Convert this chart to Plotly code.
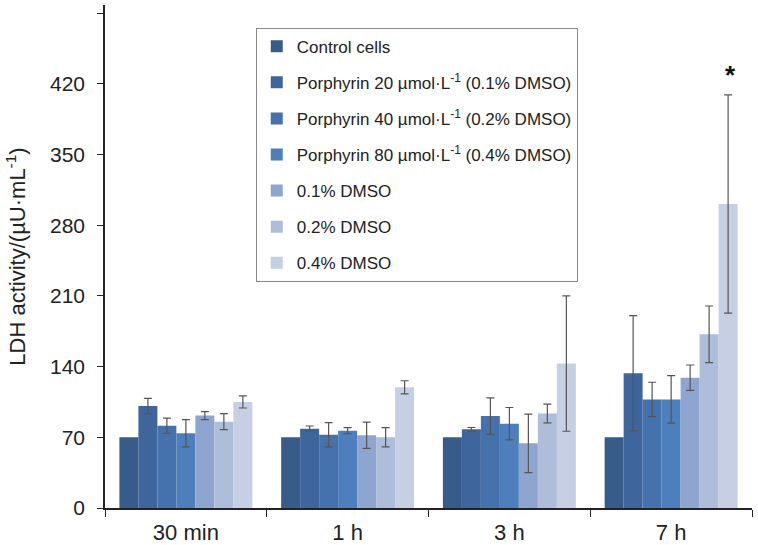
import plotly.graph_objects as go

categories = ["30 min", "1 h", "3 h", "7 h"]

series_names = [
    "Control cells",
    "Porphyrin 20 µmol·L<sup>-1</sup> (0.1% DMSO)",
    "Porphyrin 40 µmol·L<sup>-1</sup> (0.2% DMSO)",
    "Porphyrin 80 µmol·L<sup>-1</sup> (0.4% DMSO)",
    "0.1% DMSO",
    "0.2% DMSO",
    "0.4% DMSO",
]

control = [70, 70, 70, 70]
p20 = [101, 78.5, 78, 133.5]
p40 = [81.5, 72.5, 91, 107.5]
p80 = [74, 76.5, 83.5, 107.5]
dmso01 = [91.5, 72, 64, 129]
dmso02 = [85.5, 70, 93.5, 172]
dmso04 = [105, 119.5, 143, 301]

control_err = [0, 0, 0, 0]
p20_err = [7.5, 2.7, 1.7, 57]
p40_err = [7.5, 12, 18, 17]
p80_err = [13.5, 3, 16, 23.5]
dmso01_err = [4, 13, 29, 12.6]
dmso02_err = [8, 9.5, 9.3, 28]
dmso04_err = [6, 6.5, 67, 108]

values = [control, p20, p40, p80, dmso01, dmso02, dmso04]
errors = [control_err, p20_err, p40_err, p80_err, dmso01_err, dmso02_err, dmso04_err]

colors = ["#385c8a", "#3e659c", "#4571ac", "#4d7fbd", "#8ea6cf", "#aebdd9", "#c6cfe3"]

ytick_vals = [0, 70, 140, 210, 280, 350, 420]
ytick_text = ["0", "70", "140", "210", "280", "350", "420"]
ytick_step = 70

fig = go.Figure()
for i, (name, vals, errs, col) in enumerate(zip(series_names, values, errors, colors)):
    fig.add_trace(go.Bar(
        x=categories, y=vals, name=name, legendgroup=f"g{i}",
        marker=dict(color=col, line=dict(width=0)),
        error_y=dict(type="data", array=errs, visible=any(e > 0 for e in errs),
                     color="#555555", thickness=1.2, width=4),
    ))

# significance star above 7 h / 0.4% DMSO
fig.add_annotation(
    x=categories[3], y=dmso04[3] + dmso04_err[3] + 20, xref="x", yref="y",
    text="<b>*</b>", showarrow=False, xshift=59,
    font=dict(size=26, color="#111111", family="Arial"),
)

fig.update_layout(
    width=758, height=545,
    margin=dict(l=105, r=6, t=5, b=37),
    paper_bgcolor="white", plot_bgcolor="white",
    barmode="group", bargap=0.178, bargroupgap=0,
    font=dict(family="Arial", size=20, color="#222222"),
    showlegend=True,
    legend=dict(
        x=0.233, y=0.955, xanchor="left", yanchor="top",
        bordercolor="#888888", borderwidth=1, bgcolor="white",
        font=dict(size=17, color="#222222"),
        tracegroupgap=11, itemwidth=30,
    ),
    xaxis=dict(
        showline=True, linecolor="#222222", linewidth=1.5,
        ticks="outside", tickson="boundaries", ticklen=7, tickcolor="#222222",
        tickfont=dict(size=22), showgrid=False, ticklabelstandoff=4,
        automargin=False,
    ),
    yaxis=dict(
        range=[0, 498], showline=True, linecolor="#222222", linewidth=1.5,
        ticks="outside", ticklen=6, tickcolor="#222222",
        tickvals=ytick_vals, ticktext=ytick_text, tickfont=dict(size=21),
        minor=dict(ticks="outside", ticklen=6, tickcolor="#222222",
                   tick0=0, dtick=ytick_step, showgrid=False),
        showgrid=False, zeroline=False, ticklabelstandoff=8, automargin=False,
        title=dict(text="LDH activity/(µU·mL<sup>-1</sup>)", font=dict(size=22), standoff=18),
    ),
)

fig.write_html("out.html", config={"displayModeBar": False},
               post_script="document.body.style.margin='0px';")
